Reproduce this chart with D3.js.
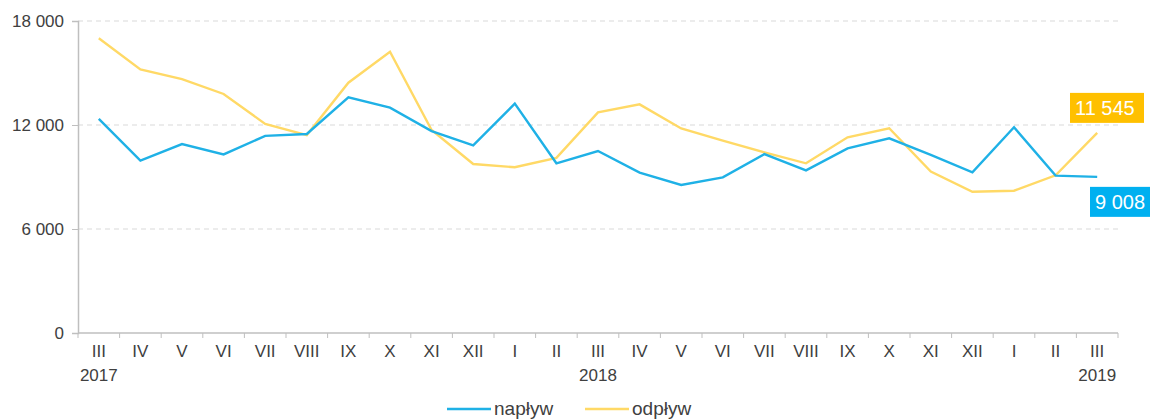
<!DOCTYPE html>
<html lang="pl">
<head>
<meta charset="UTF-8">
<script src="https://d3js.org/d3.v7.min.js"></script>
<style>
  body { margin: 0; background: #fff; }
  text { font-family: "Liberation Sans", Arial, sans-serif; fill: #404040; }
</style>
</head>
<body>
<script>
// months from III 2017 to III 2019
var months = ["III", "IV", "V", "VI", "VII", "VIII", "IX", "X", "XI", "XII", "I", "II",
  "III", "IV", "V", "VI", "VII", "VIII", "IX", "X", "XI", "XII", "I", "II", "III"];
var years = [{ i: 0, label: "2017" }, { i: 12, label: "2018" }, { i: 24, label: "2019" }];

var naplyw = [12350, 9950, 10900, 10300, 11370, 11480, 13600, 13000, 11650, 10820, 13230, 9790,
  10500, 9250, 8540, 8980, 10320, 9380, 10650, 11230, 10270, 9270, 11870, 9080, 9008];
var odplyw = [17000, 15210, 14650, 13790, 12060, 11420, 14440, 16230, 11710, 9750, 9560, 10100,
  12730, 13190, 11800, 11100, 10420, 9790, 11290, 11810, 9310, 8150, 8210, 9100, 11545];

var yTicks = [0, 6000, 12000, 18000];

var width = 1150, height = 419;
var mLeft = 78, mRight = 1118, mTop = 21, mBottom = 333;

var svg = d3.select("body").append("svg")
  .attr("width", width)
  .attr("height", height);

var x = d3.scaleBand().domain(d3.range(months.length)).range([mLeft, mRight]);
var y = d3.scaleLinear().domain([0, 18000]).range([mBottom, mTop]);

var fmt = function (v) { return d3.format(",")(v).replace(/,/g, " "); };

// gridlines
svg.selectAll(".grid")
  .data(yTicks.filter(function (d) { return d > 0; }))
  .join("line")
  .attr("x1", mLeft).attr("x2", mRight)
  .attr("y1", function (d) { return y(d); })
  .attr("y2", function (d) { return y(d); })
  .attr("stroke", "#d9d9d9")
  .attr("stroke-dasharray", "5,4");

// y axis
var yAxis = svg.append("g")
  .attr("transform", "translate(" + mLeft + ",0)")
  .call(d3.axisLeft(y).tickValues(yTicks).tickSize(6).tickPadding(8).tickFormat(fmt));
yAxis.select(".domain").attr("stroke", "#bfbfbf").attr("stroke-width", 1.5);
yAxis.selectAll(".tick line").attr("stroke", "#bfbfbf");
yAxis.selectAll("text").attr("font-size", 17).attr("fill", "#404040")
  .attr("font-family", "Liberation Sans, Arial, sans-serif");

// x axis: ticks on band borders
var xg = svg.append("g").attr("transform", "translate(0," + mBottom + ")");
xg.append("line").attr("x1", mLeft).attr("x2", mRight)
  .attr("stroke", "#bfbfbf").attr("stroke-width", 1.5);
xg.selectAll(".xt")
  .data(d3.range(months.length + 1))
  .join("line")
  .attr("x1", function (d) { return mLeft + d * x.step(); })
  .attr("x2", function (d) { return mLeft + d * x.step(); })
  .attr("y1", 0).attr("y2", 5)
  .attr("stroke", "#bfbfbf");
xg.selectAll(".xl")
  .data(months)
  .join("text")
  .attr("x", function (d, i) { return x(i) + x.bandwidth() / 2; })
  .attr("y", 24)
  .attr("text-anchor", "middle")
  .attr("font-size", 17)
  .text(function (d) { return d; });
xg.selectAll(".yl")
  .data(years)
  .join("text")
  .attr("x", function (d) { return x(d.i) + x.bandwidth() / 2; })
  .attr("y", 48)
  .attr("text-anchor", "middle")
  .attr("font-size", 17)
  .text(function (d) { return d.label; });

// lines
var line = d3.line()
  .x(function (d, i) { return x(i) + x.bandwidth() / 2; })
  .y(function (d) { return y(d); });

var series = [
  { name: "napływ", values: naplyw, color: "#1fb1e6", box: "#00b0f0" },
  { name: "odpływ", values: odplyw, color: "#ffd966", box: "#ffc000" }
];

// draw odpływ first, napływ on top
svg.append("path").datum(odplyw)
  .attr("d", line).attr("fill", "none")
  .attr("stroke", series[1].color).attr("stroke-width", 2.4);
svg.append("path").datum(naplyw)
  .attr("d", line).attr("fill", "none")
  .attr("stroke", series[0].color).attr("stroke-width", 2.4);

// end labels
var last = months.length - 1;
function endLabel(val, color, bx, by, bw) {
  svg.append("rect")
    .attr("x", bx).attr("y", by).attr("width", bw).attr("height", 30)
    .attr("fill", color);
  svg.append("text")
    .attr("x", bx + 5).attr("y", by + 22)
    .attr("font-size", 20)
    .style("fill", "#fff")
    .text(fmt(val));
}
endLabel(odplyw[last], series[1].box, 1070, y(odplyw[last]) - 40, 74);
endLabel(naplyw[last], series[0].box, 1090, y(naplyw[last]) + 10, 62);

// legend
var legend = svg.append("g").attr("transform", "translate(447,409)");
var lx = [0, 138];
series.forEach(function (s, i) {
  legend.append("line")
    .attr("x1", lx[i]).attr("x2", lx[i] + 44)
    .attr("y1", 0).attr("y2", 0)
    .attr("stroke", s.color).attr("stroke-width", 2.4);
  legend.append("text")
    .attr("x", lx[i] + 47).attr("y", 6)
    .attr("font-size", 19)
    .text(s.name);
});
</script>
</body>
</html>
